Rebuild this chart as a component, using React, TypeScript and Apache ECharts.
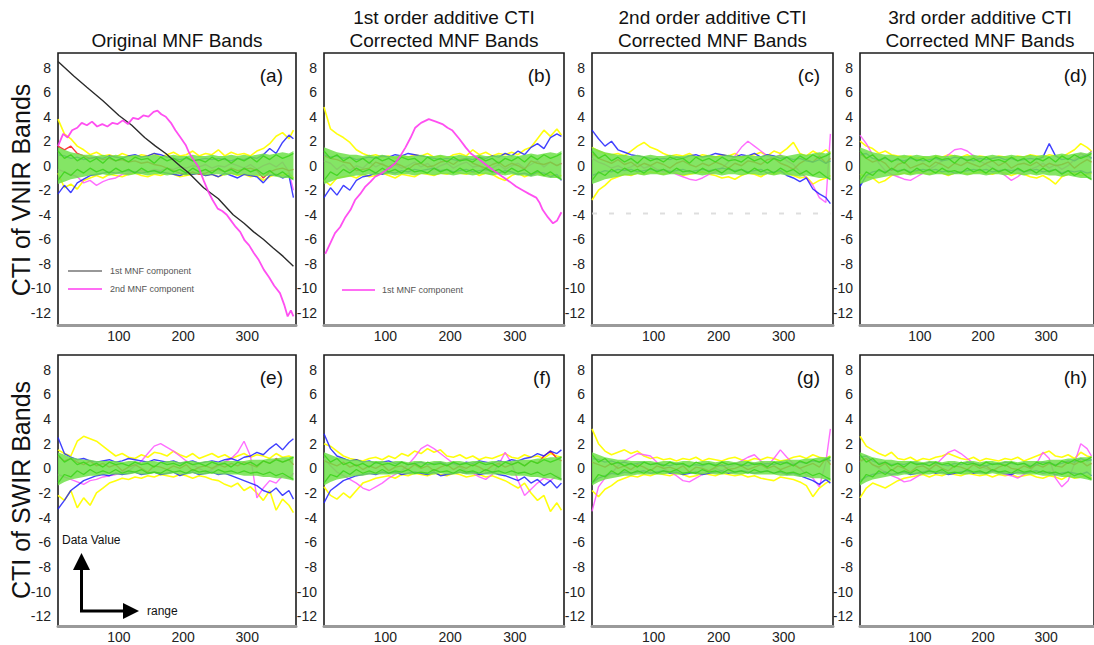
import React, { useEffect, useRef } from "react";
import * as echarts from "echarts";

// ---------- shared axes ----------
const xs = [5,15,25,35,45,55,65,75,85,95,105,115,125,135,145,155,165,175,185,195,205,215,225,235,245,255,265,275,285,295,305,315,325,335,345,355,365,372];
const xTicks = [100, 200, 300];
const yTicks = [-12, -10, -8, -6, -4, -2, 0, 2, 4, 6, 8];

const colTitles = [
  ["Original MNF Bands"],
  ["1st order additive CTI", "Corrected MNF Bands"],
  ["2nd order additive CTI", "Corrected MNF Bands"],
  ["3rd order additive CTI", "Corrected MNF Bands"],
];
const rowNames = ["CTI of VNIR Bands", "CTI of SWIR Bands"];
const panelLabels = ["(a)", "(b)", "(c)", "(d)", "(e)", "(f)", "(g)", "(h)"];

// ---------- green bulk of bands (envelopes + representative lines) ----------
const vnirBandTop = [1.5,1.3,1.1,1.0,0.9,0.9,0.8,0.9,0.8,0.9,0.8,0.8,0.9,0.8,0.8,0.9,0.8,0.8,0.9,0.8,0.8,0.9,0.8,0.8,0.9,0.8,0.8,0.9,0.8,0.9,0.8,0.9,1.0,0.9,1.0,1.1,1.0,1.2];
const vnirBandBot = [-1.5,-1.3,-1.1,-1.0,-0.9,-0.8,-0.8,-0.7,-0.8,-0.7,-0.7,-0.8,-0.7,-0.7,-0.8,-0.7,-0.7,-0.8,-0.7,-0.7,-0.8,-0.7,-0.7,-0.8,-0.7,-0.7,-0.8,-0.7,-0.8,-0.7,-0.8,-0.8,-0.9,-0.8,-0.9,-1.0,-1.0,-1.2];
const swirBandTop = [1.3,1.1,0.9,0.8,0.7,0.7,0.6,0.6,0.6,0.6,0.5,0.6,0.6,0.5,0.6,0.6,0.5,0.6,0.6,0.5,0.6,0.6,0.5,0.6,0.6,0.5,0.6,0.6,0.6,0.6,0.7,0.7,0.7,0.8,0.8,0.9,0.9,1.0];
const swirBandBot = [-1.4,-1.1,-0.9,-0.8,-0.7,-0.6,-0.6,-0.5,-0.5,-0.5,-0.5,-0.5,-0.4,-0.5,-0.5,-0.4,-0.5,-0.5,-0.4,-0.5,-0.5,-0.4,-0.5,-0.5,-0.4,-0.5,-0.5,-0.5,-0.5,-0.6,-0.6,-0.6,-0.7,-0.7,-0.8,-0.8,-0.9,-1.0];
const vnirGreenA = [1.2,0.6,0.9,0.4,0.7,0.3,0.6,0.2,0.7,0.4,0.6,0.3,0.7,0.5,0.6,0.2,0.7,0.4,0.6,0.3,0.7,0.4,0.5,0.3,0.7,0.4,0.6,0.2,0.6,0.4,0.7,0.3,0.8,0.5,0.9,0.6,0.8,1.0];
const vnirGreenB = [-1.2,-0.5,-0.8,-0.3,-0.6,-0.2,-0.5,-0.3,-0.6,-0.2,-0.5,-0.3,-0.6,-0.2,-0.5,-0.4,-0.6,-0.2,-0.5,-0.3,-0.6,-0.2,-0.5,-0.3,-0.6,-0.2,-0.5,-0.3,-0.6,-0.2,-0.5,-0.3,-0.7,-0.4,-0.8,-0.5,-0.9,-1.1];
const swirGreenA = [1.1,0.5,0.8,0.3,0.5,0.2,0.4,0.1,0.5,0.3,0.4,0.2,0.5,0.3,0.4,0.1,0.5,0.3,0.4,0.2,0.5,0.3,0.4,0.2,0.5,0.3,0.4,0.1,0.5,0.3,0.5,0.2,0.6,0.4,0.7,0.5,0.7,0.9];
const swirGreenB = [-1.2,-0.5,-0.7,-0.2,-0.5,-0.1,-0.4,-0.2,-0.4,-0.1,-0.4,-0.2,-0.3,-0.1,-0.4,-0.3,-0.4,-0.1,-0.3,-0.2,-0.4,-0.1,-0.3,-0.2,-0.4,-0.1,-0.3,-0.2,-0.4,-0.2,-0.4,-0.3,-0.5,-0.3,-0.6,-0.4,-0.7,-0.9];

// ---------- (a) ----------
const aYellowHi = [3.8,2.6,2.2,1.6,1.3,0.9,1.1,0.8,0.9,0.7,1.0,0.8,0.7,0.9,0.8,1.0,0.7,0.9,1.1,0.8,0.9,1.2,0.8,1.0,0.9,1.3,0.8,1.1,0.9,1.0,0.8,1.2,1.4,1.8,2.4,2.7,2.2,2.9];
const aYellowLo = [-0.6,-1.8,-1.5,-1.9,-1.2,-1.0,-0.8,-1.0,-0.7,-0.8,-0.9,-0.7,-0.6,-0.8,-0.9,-0.7,-0.8,-0.6,-0.7,-0.9,-0.8,-0.7,-0.6,-0.8,-0.7,-0.9,-0.7,-0.6,-0.8,-0.7,-0.9,-0.8,-1.2,-0.9,-0.7,-0.8,-0.6,-1.0];
const aBlueHi = [0.9,0.8,0.6,0.7,0.5,0.6,0.7,0.6,0.8,0.7,0.6,0.8,0.9,0.7,0.8,1.0,0.9,0.7,0.6,0.5,0.6,0.4,0.5,0.6,0.5,0.6,0.5,0.4,0.6,0.5,0.7,0.6,0.9,1.4,1.0,1.9,2.5,2.2];
const aBlueLo = [-2.3,-1.6,-2.2,-1.4,-1.1,-0.8,-0.7,-0.6,-0.5,-0.6,-0.5,-0.4,-0.5,-0.6,-0.5,-0.4,-0.5,-0.6,-0.7,-0.8,-0.6,-0.7,-0.6,-0.8,-0.7,-0.9,-0.6,-0.8,-1.0,-0.7,-0.8,-0.9,-1.4,-0.8,-0.7,-1.0,-0.8,-2.6];
const aRed = [1.6,1.3,1.6,1.0,0.8,0.6,0.7,0.5,0.6,0.4,0.5,0.3,0.4,0.2,0.3,0.1,0.0,-0.2,-0.4,-0.6,-0.7,-0.5,-0.7,-0.6,-0.4,-0.3,-0.5,-0.2,-0.4,-0.3,-0.2,-0.4,-1.0,-0.5,-0.3,-0.2,-0.4,-0.3];
const aPink = [-0.3,-0.5,-0.7,-0.9,-1.4,-1.2,-1.6,-1.3,-1.1,-1.0,-0.7,-0.6,-0.5,-0.4,-0.5,-0.3,-0.4,-0.2,-0.3,-0.1,-0.2,0.0,-0.1,0.1,-0.2,0.0,-0.1,0.2,0.0,-0.2,0.1,-0.3,0.0,0.2,-0.1,0.3,-0.5,-2.0];
const aComp1 = [[5,8.5],[30,7.3],[50,6.4],[75,5.3],[100,4.1],[120,3.3],[140,2.3],[157,1.6],[173,1.0],[195,0.0],[209,-0.6],[232,-1.8],[255,-2.7],[278,-4.0],[295,-4.7],[310,-5.4],[325,-6.0],[340,-6.7],[356,-7.4],[372,-8.2]];
const aComp2 = [[5,1.6],[13,2.6],[20,2.3],[27,2.9],[35,3.1],[42,3.5],[50,3.3],[58,3.6],[66,3.2],[74,3.4],[82,3.2],[90,3.5],[98,3.4],[106,3.7],[114,3.4],[122,3.9],[130,3.8],[138,4.1],[146,4.0],[154,4.4],[160,4.5],[166,4.2],[173,4.0],[181,3.5],[188,2.9],[196,2.3],[204,1.7],[209,1.1],[216,0.5],[224,-0.1],[232,-1.2],[240,-2.2],[246,-2.8],[254,-3.5],[261,-3.7],[268,-4.0],[275,-4.5],[282,-5.0],[289,-5.4],[296,-6.1],[303,-6.5],[310,-7.1],[318,-7.7],[326,-8.5],[334,-9.1],[342,-9.8],[351,-10.4],[358,-11.4],[363,-12.3],[368,-11.8],[372,-12.3]];

// ---------- (b) ----------
const bYellowHi = [4.8,3.0,2.6,2.3,1.9,1.3,1.0,0.8,0.9,0.7,0.8,0.6,0.8,0.7,0.9,0.8,1.0,0.7,0.8,0.6,0.9,1.0,0.8,1.3,0.9,1.1,0.8,1.0,0.9,1.1,0.9,1.3,1.5,2.2,2.9,2.4,3.0,2.5];
const bYellowLo = [-1.2,-1.6,-1.0,-0.9,-0.8,-1.0,-0.7,-0.9,-0.8,-0.6,-0.8,-1.0,-0.7,-0.8,-0.9,-0.6,-0.7,-0.8,-0.6,-0.7,-0.5,-0.6,-0.7,-0.5,-0.8,-0.6,-0.7,-1.0,-1.2,-0.8,-0.6,-0.9,-0.7,-0.6,-0.8,-0.7,-0.9,-0.8];
const bBlueHi = [0.9,0.7,0.8,0.6,0.7,0.5,0.6,0.7,0.6,0.8,0.7,0.9,0.8,1.0,0.9,0.8,0.7,0.6,0.5,0.6,0.5,0.4,0.6,0.5,0.7,0.6,0.8,0.7,1.0,0.8,1.2,0.9,1.5,1.8,1.4,2.3,2.6,2.4];
const bBlueLo = [-2.6,-1.8,-2.4,-1.6,-2.0,-1.2,-0.9,-0.8,-0.6,-0.7,-0.5,-0.6,-0.4,-0.5,-0.3,-0.4,-0.3,-0.2,-0.4,-0.3,-0.5,-0.4,-0.3,-0.5,-0.4,-0.3,-0.5,-0.6,-0.4,-0.5,-0.7,-0.6,-0.8,-0.5,-0.6,-0.9,-0.7,-1.2];
const bRed = [0.8,0.6,0.5,0.3,0.2,-0.4,-0.3,-0.2,0.3,0.1,-0.1,0.2,0.0,-0.3,0.1,0.2,-0.1,0.0,0.3,0.4,0.1,0.5,0.6,0.2,0.0,-0.2,0.1,0.3,-0.1,0.2,0.0,-0.3,0.4,0.2,0.1,0.3,0.0,0.2];
const bPink = [0.4,0.2,-0.3,0.1,-0.4,0.0,-0.2,0.3,-0.1,0.2,-0.3,0.1,-0.2,0.0,0.3,-0.1,0.2,-0.3,0.0,0.2,-0.2,0.1,0.3,-0.1,0.0,-0.4,-0.2,0.1,-0.3,0.0,0.2,-0.2,0.1,0.4,-0.1,0.3,0.0,0.2];
const bComp = [[7,-7.2],[15,-6.3],[22,-5.5],[30,-5.0],[38,-4.2],[46,-3.6],[53,-2.8],[61,-2.3],[69,-1.7],[77,-1.3],[84,-0.9],[92,-0.7],[100,-0.4],[108,-0.1],[115,0.2],[123,0.8],[131,1.5],[139,2.3],[146,3.1],[155,3.5],[167,3.8],[178,3.6],[188,3.4],[196,3.1],[203,2.9],[214,2.2],[224,1.5],[232,1.0],[240,0.7],[250,0.3],[260,-0.1],[270,-0.5],[281,-0.9],[292,-1.3],[302,-1.7],[312,-2.0],[322,-2.3],[333,-2.6],[338,-3.0],[343,-3.6],[351,-4.2],[359,-4.7],[365,-4.5],[372,-3.8]];

// ---------- (c) ----------
const cYellowHi = [1.5,1.2,1.0,0.9,1.0,0.8,1.2,1.6,1.9,1.5,1.3,1.0,0.8,0.9,0.8,1.0,0.7,0.9,0.8,0.7,0.9,0.8,1.0,0.7,0.8,0.9,1.1,0.8,1.2,1.0,1.4,1.9,1.0,0.8,1.2,0.9,1.3,1.0];
const cYellowLo = [-2.8,-2.0,-1.6,-1.1,-0.9,-0.7,-0.8,-0.6,-0.7,-0.5,-0.6,-0.7,-0.5,-0.6,-0.8,-0.7,-0.6,-0.5,-0.7,-0.8,-1.0,-0.9,-1.1,-0.8,-0.6,-0.7,-0.9,-0.6,-0.7,-0.5,-0.6,-0.8,-1.0,-0.9,-1.5,-1.2,-1.0,-0.8];
const cBlueHi = [2.9,2.2,1.6,2.0,1.3,1.1,0.9,0.8,0.7,0.6,0.5,0.6,0.5,0.7,0.6,0.8,0.9,0.7,0.8,1.0,0.9,0.8,0.7,0.9,0.8,1.0,0.7,0.9,0.8,0.6,0.7,0.5,0.6,0.4,0.3,0.5,0.2,0.4];
const cBlueLo = [-0.8,-0.6,-0.4,-0.5,-0.3,-0.4,-0.3,-0.5,-0.4,-0.3,-0.4,-0.3,-0.5,-0.4,-0.3,-0.5,-0.4,-0.3,-0.4,-0.3,-0.2,-0.3,-0.4,-0.3,-0.5,-0.4,-0.3,-0.6,-0.5,-0.4,-0.8,-1.0,-1.3,-1.0,-1.9,-2.3,-2.6,-3.1];
const cRed = [1.0,0.6,0.4,0.2,0.5,0.1,0.3,-0.1,0.2,0.0,0.3,0.1,-0.2,0.2,0.4,0.1,-0.1,0.2,0.0,0.3,0.1,-0.2,0.2,0.0,0.4,0.3,0.1,0.5,0.6,0.2,0.0,-0.3,0.2,0.5,0.3,0.8,0.2,0.6];
const cPink = [0.6,0.3,0.1,-0.2,0.0,-0.3,-0.1,0.2,-0.2,0.0,-0.3,-0.5,-0.4,-0.7,-0.9,-1.1,-1.2,-1.0,-0.7,-0.5,-0.2,0.3,0.8,1.5,2.0,1.6,1.2,0.8,0.6,0.9,0.4,0.1,-0.5,-1.0,-1.6,-2.6,-3.0,2.6];
const cArtifact = [-3.9, -3.9];

// ---------- (d) ----------
const dYellowHi = [2.0,1.6,1.4,1.0,1.2,0.9,0.8,0.7,0.8,0.6,0.7,0.6,0.8,0.7,0.9,0.8,0.7,0.9,0.6,0.8,0.7,0.6,0.8,0.7,0.6,0.8,0.7,0.9,0.8,0.7,0.9,0.8,0.7,1.0,1.3,1.8,1.5,1.2];
const dYellowLo = [-0.7,-0.9,-1.0,-1.4,-1.2,-0.8,-0.7,-0.6,-0.7,-0.5,-0.6,-0.7,-0.5,-0.6,-0.8,-0.6,-0.5,-0.7,-0.6,-0.5,-0.6,-0.7,-0.5,-0.6,-0.8,-0.6,-0.7,-0.9,-1.0,-0.8,-1.1,-1.5,-0.9,-0.7,-0.6,-0.8,-0.7,-0.6];
const dBlueHi = [0.9,1.0,0.6,0.5,0.6,0.4,0.5,0.4,0.6,0.5,0.4,0.5,0.6,0.4,0.5,0.7,0.6,0.5,0.4,0.6,0.5,0.6,0.7,0.5,0.6,0.4,0.5,0.6,0.5,0.7,1.8,0.8,0.5,0.6,0.4,0.7,0.9,0.6];
const dBlueLo = [-1.7,-0.8,-0.5,-0.4,-0.5,-0.3,-0.4,-0.3,-0.5,-0.4,-0.3,-0.4,-0.3,-0.5,-0.4,-0.6,-0.5,-0.4,-0.3,-0.4,-0.3,-0.5,-0.4,-0.3,-0.4,-0.3,-0.5,-0.4,-0.3,-0.5,-0.4,-0.3,-0.6,-0.4,-0.5,-0.4,-0.6,-0.5];
const dRed = [1.0,0.6,0.3,0.5,0.2,-0.4,0.1,0.3,-0.2,0.0,0.2,-0.1,0.3,0.1,-0.2,0.2,0.0,0.3,0.1,-0.1,0.2,0.4,0.0,0.3,-0.2,0.1,0.2,0.0,0.3,-0.1,0.2,0.0,0.1,0.3,-0.2,0.2,0.5,0.3];
const dPink = [2.5,1.8,0.9,0.2,-0.4,-0.7,-0.9,-1.1,-1.2,-0.9,-0.6,-0.3,0.0,0.4,0.9,1.3,1.4,1.2,0.8,0.4,0.1,-0.2,-0.4,-0.8,-1.2,-0.9,-0.5,-0.3,-0.1,0.2,-0.2,0.1,-0.3,0.0,0.5,1.0,0.7,1.2];

// ---------- (e) ----------
const eYellowHi = [1.5,1.2,1.0,2.2,2.6,2.4,2.2,1.8,1.4,1.0,1.2,0.9,0.8,1.1,0.9,1.3,1.2,1.0,1.4,1.1,0.9,1.2,0.8,1.0,1.2,0.9,1.1,0.8,1.0,1.2,0.9,1.1,1.0,0.8,1.2,0.9,1.0,0.8];
const eYellowLo = [-2.2,-2.6,-1.8,-3.2,-2.4,-3.0,-2.0,-1.6,-1.2,-1.0,-0.8,-0.9,-0.7,-0.8,-0.6,-0.7,-0.5,-0.6,-0.7,-0.5,-0.6,-0.8,-0.6,-0.7,-0.9,-1.0,-1.3,-1.5,-1.2,-1.8,-1.5,-2.0,-2.6,-1.8,-3.4,-2.5,-3.0,-3.6];
const eBlueHi = [2.5,1.2,0.9,0.7,0.8,0.6,0.5,0.6,0.7,0.5,0.6,0.8,0.7,0.6,0.5,0.7,0.6,0.5,0.6,0.4,0.5,0.6,0.4,0.5,0.6,0.5,0.7,0.8,0.6,0.9,1.0,1.3,1.1,1.6,2.0,1.5,2.1,2.4];
const eBlueLo = [-3.3,-2.6,-1.8,-1.4,-1.0,-0.8,-0.6,-0.5,-0.6,-0.4,-0.5,-0.4,-0.3,-0.5,-0.4,-0.3,-0.5,-0.4,-0.3,-0.6,-0.4,-0.3,-0.5,-0.4,-0.3,-0.5,-0.4,-0.6,-0.8,-1.0,-1.2,-1.4,-1.8,-2.0,-1.6,-2.2,-1.8,-2.5];
const eRed = [1.0,0.6,0.8,0.5,0.3,0.6,0.2,0.4,0.1,0.3,-0.2,0.1,0.3,0.0,-0.3,0.2,0.1,-0.1,0.2,0.0,0.3,-0.2,0.1,0.2,0.0,0.3,0.1,0.4,0.2,0.5,0.3,0.1,0.6,0.4,0.8,0.5,0.7,0.3];
const ePink = [-0.5,-0.7,-0.9,-1.1,-1.3,-1.0,-0.9,-0.7,-0.6,-0.5,-0.3,-0.2,0.2,0.6,1.2,1.8,2.0,1.7,1.4,1.0,0.6,0.3,0.0,-0.3,-0.1,0.2,0.5,0.8,1.3,2.2,1.0,-2.4,-1.6,-1.0,-1.2,-0.6,-0.8,-0.4];

// ---------- (f) ----------
const fYellowHi = [2.0,1.8,1.4,1.0,0.8,0.7,0.6,0.8,0.9,0.7,1.0,0.8,1.2,1.0,1.4,1.2,1.6,1.3,1.5,1.0,0.9,1.1,0.8,1.0,0.7,0.9,0.8,1.0,1.2,0.9,0.8,1.1,0.9,1.0,0.8,1.2,1.0,0.9];
const fYellowLo = [-1.5,-2.2,-2.5,-2.0,-2.4,-1.8,-1.2,-1.0,-0.8,-0.7,-0.6,-0.8,-0.5,-0.6,-0.4,-0.5,-0.6,-0.4,-0.5,-0.6,-0.4,-0.5,-0.7,-0.6,-0.5,-0.7,-0.6,-0.8,-1.0,-1.3,-1.6,-1.2,-2.0,-2.6,-2.2,-3.5,-2.8,-3.4];
const fBlueHi = [2.8,1.6,1.0,0.8,0.6,0.7,0.5,0.6,0.4,0.5,0.6,0.4,0.5,0.3,0.4,0.5,0.3,0.4,0.5,0.3,0.4,0.3,0.5,0.4,0.6,0.5,0.4,0.6,0.5,0.7,0.6,0.8,0.9,1.2,1.0,1.4,1.2,1.5];
const fBlueLo = [-2.8,-1.8,-1.4,-1.0,-0.8,-0.6,-0.5,-0.4,-0.5,-0.3,-0.4,-0.3,-0.5,-0.4,-0.3,-0.4,-0.5,-0.3,-0.6,-0.5,-0.4,-0.3,-0.4,-0.3,-0.5,-0.4,-0.3,-0.5,-0.6,-0.8,-1.0,-0.7,-1.2,-0.9,-1.4,-1.0,-1.6,-1.2];
const fRed = [0.6,0.4,0.2,0.5,0.1,0.3,-0.1,0.2,0.0,0.3,-0.2,0.1,0.2,-0.1,0.3,0.0,0.2,-0.2,0.1,0.3,-0.1,0.2,0.0,0.3,0.1,-0.2,0.2,0.4,0.1,0.3,0.5,0.2,0.6,0.4,1.0,1.4,0.8,0.6];
const fPink = [0.8,0.2,-0.3,-0.6,-0.9,-1.2,-1.6,-1.8,-1.5,-1.2,-0.8,-0.5,-0.2,0.3,0.9,1.6,1.9,1.6,1.2,0.8,0.4,0.1,-0.2,-0.4,-0.7,-0.9,-0.5,0.3,1.3,0.4,-1.0,-2.2,-1.7,-1.2,-0.8,-1.0,-0.6,-0.9];

// ---------- (g) ----------
const gYellowHi = [3.2,2.0,1.4,1.1,1.3,1.5,1.2,1.4,1.0,0.8,0.9,0.7,0.8,0.6,0.8,0.7,0.9,0.6,0.8,0.7,0.6,0.8,0.9,0.7,0.6,0.8,0.7,0.9,0.8,0.6,0.7,0.9,1.0,0.8,1.1,0.9,0.8,1.0];
const gYellowLo = [-1.8,-2.3,-1.7,-1.4,-1.0,-0.8,-0.6,-0.7,-0.5,-0.6,-0.4,-0.5,-0.6,-0.4,-0.5,-0.7,-0.6,-0.4,-0.5,-0.6,-0.4,-0.5,-0.6,-0.5,-0.7,-0.6,-0.8,-0.9,-1.0,-0.7,-0.8,-0.9,-1.1,-1.4,-2.3,-1.6,-1.2,-1.0];
const gBlueHi = [0.8,0.7,0.5,0.6,0.4,0.5,0.3,0.4,0.5,0.3,0.4,0.3,0.2,0.4,0.3,0.2,0.3,0.2,0.4,0.3,0.2,0.3,0.4,0.3,0.2,0.4,0.3,0.4,0.3,0.5,0.4,0.3,0.5,0.4,0.6,0.5,0.8,0.6];
const gBlueLo = [-1.2,-0.8,-0.6,-0.4,-0.5,-0.3,-0.4,-0.3,-0.2,-0.4,-0.3,-0.2,-0.4,-0.3,-0.5,-0.4,-0.3,-0.5,-0.4,-0.3,-0.2,-0.4,-0.3,-0.2,-0.3,-0.4,-0.3,-0.2,-0.4,-0.3,-0.5,-0.4,-0.6,-0.8,-1.0,-1.3,-0.9,-1.2];
const gRed = [0.5,0.3,0.1,0.4,0.0,0.2,-0.1,0.3,0.1,-0.2,0.2,0.0,0.1,-0.1,0.2,-0.3,0.1,0.0,-0.2,0.1,0.3,-0.1,0.0,0.2,-0.1,0.1,0.3,0.0,0.2,-0.1,0.1,0.3,0.0,0.2,0.4,0.1,0.8,0.3];
const gPink = [-3.5,-1.5,-0.8,-0.4,0.2,0.6,0.9,1.2,1.1,1.0,0.5,0.0,-0.3,-0.6,-1.0,-1.1,-0.8,-0.5,-0.2,0.0,-0.2,0.1,0.3,0.6,0.9,1.1,0.6,0.2,0.8,1.5,0.9,0.4,0.0,-0.5,-0.8,-1.5,0.5,3.2];

// ---------- (h) ----------
const hYellowHi = [2.6,1.8,1.5,1.2,1.0,1.3,0.8,0.7,0.9,0.6,0.8,0.7,0.9,1.0,1.2,1.0,0.8,0.7,0.9,0.6,0.8,0.7,0.6,0.8,0.7,0.9,0.6,0.8,1.0,1.2,1.4,1.0,0.9,1.1,0.8,1.3,1.0,0.9];
const hYellowLo = [-2.4,-1.6,-1.2,-1.4,-1.6,-1.3,-1.0,-0.8,-0.7,-0.6,-0.5,-0.7,-0.5,-0.6,-0.4,-0.5,-0.6,-0.4,-0.5,-0.6,-0.5,-0.7,-0.5,-0.6,-0.5,-0.7,-0.6,-0.5,-0.7,-0.8,-0.6,-0.7,-0.9,-0.6,-0.8,-0.7,-0.6,-0.8];
const hBlueHi = [0.9,1.0,0.6,0.4,0.5,0.3,0.4,0.3,0.5,0.4,0.3,0.5,0.4,0.3,0.2,0.4,0.3,0.5,0.4,0.3,0.2,0.4,0.3,0.5,0.4,0.3,0.4,0.2,0.3,0.5,0.4,0.3,0.4,0.6,0.5,0.8,0.6,0.7];
const hBlueLo = [-1.0,-0.7,-0.5,-0.4,-0.3,-0.5,-0.4,-0.3,-0.5,-0.4,-0.3,-0.2,-0.4,-0.3,-0.5,-0.4,-0.3,-0.2,-0.4,-0.3,-0.4,-0.2,-0.3,-0.4,-0.5,-0.3,-0.4,-0.3,-0.2,-0.4,-0.3,-0.5,-0.4,-0.3,-0.4,-0.5,-0.3,-0.6];
const hRed = [0.6,0.8,0.3,0.1,0.4,-0.2,0.2,0.0,-0.3,0.1,0.2,-0.1,0.3,0.0,-0.2,0.2,0.1,-0.1,0.3,0.0,0.2,-0.2,0.1,0.3,0.0,-0.1,0.2,0.0,0.3,0.1,0.4,0.2,0.1,0.5,0.3,0.6,0.2,0.4];
const hPink = [0.5,0.8,0.3,0.0,-0.3,-0.6,-0.8,-1.1,-1.0,-0.7,-0.4,-0.1,0.3,0.8,1.3,1.5,1.2,0.8,0.4,0.2,0.0,-0.2,-0.3,-0.5,-0.6,-0.8,-0.5,-0.2,0.4,1.3,0.8,-0.8,-1.5,-1.0,0.4,2.0,1.6,1.0];

// ---------- layout ----------
const FONT = '"Liberation Sans", Arial, Helvetica, sans-serif';
const LEFTS = [58, 324, 592, 860];
const WIDTHS = [238, 240, 241, 240];
const TOPS = [53, 355];
const HEIGHTS = [272, 271];
const Y_MINS = [-13, -12.8];
const Y_MAX = 9.2;
const X_MIN = 5;
const X_MAX = 376;

const C_YELLOW = "#ffff00";
const C_BLUE = "#2020ff";
const C_RED = "#ff2020";
const C_PINK = "#ff55ff";
const C_COMP = "#ff3cf0";
const C_GREEN = "#3fd41e";
const C_BAND = "#6ee04a";

const panels = [
  { yHi: aYellowHi, yLo: aYellowLo, bHi: aBlueHi, bLo: aBlueLo, red: aRed, pink: aPink },
  { yHi: bYellowHi, yLo: bYellowLo, bHi: bBlueHi, bLo: bBlueLo, red: bRed, pink: bPink },
  { yHi: cYellowHi, yLo: cYellowLo, bHi: cBlueHi, bLo: cBlueLo, red: cRed, pink: cPink },
  { yHi: dYellowHi, yLo: dYellowLo, bHi: dBlueHi, bLo: dBlueLo, red: dRed, pink: dPink },
  { yHi: eYellowHi, yLo: eYellowLo, bHi: eBlueHi, bLo: eBlueLo, red: eRed, pink: ePink },
  { yHi: fYellowHi, yLo: fYellowLo, bHi: fBlueHi, bLo: fBlueLo, red: fRed, pink: fPink },
  { yHi: gYellowHi, yLo: gYellowLo, bHi: gBlueHi, bLo: gBlueLo, red: gRed, pink: gPink },
  { yHi: hYellowHi, yLo: hYellowLo, bHi: hBlueHi, bLo: hBlueLo, red: hRed, pink: hPink },
];

const pts = (arr: number[]) => xs.map((x, i) => [x, arr[i]]);

function lineSeries(i: number, data: any[], color: string, width = 1, opacity = 0.9, z = 2, extra: any = {}) {
  return {
    type: "line",
    xAxisIndex: i,
    yAxisIndex: i,
    data,
    symbol: "none",
    silent: true,
    z,
    lineStyle: { color, width, opacity },
    ...extra,
  };
}

// filled band between two envelopes, positioned through the axes' own scales
function bandSeries(i: number, top: number[], bot: number[]) {
  return {
    type: "custom",
    xAxisIndex: i,
    yAxisIndex: i,
    silent: true,
    z: 3,
    data: xs.map((x, k) => [x, top[k], bot[k]]),
    encode: { x: 0, y: [1, 2] },
    renderItem: (params: any, api: any) => {
      if (params.dataIndex !== 0) return null;
      const upper = xs.map((x, k) => api.coord([x, top[k]]));
      const lower = xs.map((x, k) => api.coord([x, bot[k]])).reverse();
      return {
        type: "polygon",
        shape: { points: upper.concat(lower) },
        style: { fill: C_BAND, opacity: 0.85 },
      };
    },
  };
}

function buildOption() {
  const grid: any[] = [];
  const xAxis: any[] = [];
  const yAxis: any[] = [];
  const series: any[] = [];
  const graphic: any[] = [];

  panels.forEach((p, i) => {
    const row = i < 4 ? 0 : 1;
    const col = i % 4;
    grid.push({
      left: LEFTS[col],
      top: TOPS[row],
      width: WIDTHS[col],
      height: HEIGHTS[row],
      show: true,
      borderColor: "#1c1c1c",
      borderWidth: 1.6,
      backgroundColor: "#ffffff",
      containLabel: false,
    });
    xAxis.push({
      type: "value",
      gridIndex: i,
      min: X_MIN,
      max: X_MAX,
      splitLine: { show: false },
      axisTick: { show: false },
      axisLine: { show: true, onZero: false, lineStyle: { color: "#9a9a9a", width: 3 } },
      axisLabel: { customValues: xTicks, margin: 4, fontSize: 14, color: "#222", fontFamily: FONT },
    });
    yAxis.push({
      type: "value",
      gridIndex: i,
      min: Y_MINS[row],
      max: Y_MAX,
      splitLine: { show: false },
      axisTick: { show: false },
      axisLine: { show: false },
      axisLabel: { customValues: yTicks, margin: 7, fontSize: 14, color: "#222", fontFamily: FONT },
    });

    const bandTop = row === 0 ? vnirBandTop : swirBandTop;
    const bandBot = row === 0 ? vnirBandBot : swirBandBot;
    const gA = row === 0 ? vnirGreenA : swirGreenA;
    const gB = row === 0 ? vnirGreenB : swirGreenB;

    // coloured band excursions
    series.push(lineSeries(i, pts(p.yLo), C_YELLOW, 1.6, 0.95));
    series.push(lineSeries(i, pts(p.yHi), C_YELLOW, 1.6, 0.95));
    series.push(lineSeries(i, pts(p.pink), C_PINK, 1.4, 0.85));
    series.push(lineSeries(i, pts(p.red), C_RED, 1.4, 0.9));
    series.push(lineSeries(i, pts(p.bLo), C_BLUE, 1.4, 0.85));
    series.push(lineSeries(i, pts(p.bHi), C_BLUE, 1.4, 0.85));

    // green bulk
    series.push(bandSeries(i, bandTop, bandBot));
    series.push(lineSeries(i, pts(gA), C_GREEN, 1.3, 0.9, 4));
    series.push(lineSeries(i, pts(gB), C_GREEN, 1.3, 0.9, 4));
  });

  // MNF components
  series.push(lineSeries(0, aComp1, "#2b2b2b", 1.4, 1, 6));
  series.push(lineSeries(0, aComp2, C_COMP, 1.8, 0.9, 6));
  series.push(lineSeries(1, bComp, C_COMP, 1.8, 0.9, 6));
  // faint artefact line in (c)
  series.push(
    lineSeries(2, [[xs[0], cArtifact[0]], [xs[xs.length - 1], cArtifact[1]]], "#d6d6d6", 2, 0.8, 1, {
      lineStyle: { color: "#d6d6d6", width: 2, type: [5, 12], opacity: 0.8 },
    })
  );

  // column titles
  colTitles.forEach((lines, c) => {
    const cx = LEFTS[c] + WIDTHS[c] / 2;
    lines.forEach((t, k) => {
      const y = lines.length === 1 ? 40 : k === 0 ? 17 : 40;
      graphic.push({
        type: "text", x: cx, y, z: 10,
        style: { text: t, align: "center", verticalAlign: "middle", fontSize: 19, fontFamily: FONT, fill: "#111" },
      });
    });
  });
  // row names
  rowNames.forEach((t, r) => {
    graphic.push({
      type: "text", x: 21, y: r === 0 ? 190 : 490, rotation: Math.PI / 2, z: 10,
      style: { text: t, align: "center", verticalAlign: "middle", fontSize: 25, fontFamily: FONT, fill: "#111" },
    });
  });
  // panel letters
  panelLabels.forEach((t, i) => {
    const row = i < 4 ? 0 : 1;
    const col = i % 4;
    graphic.push({
      type: "text", x: LEFTS[col] + WIDTHS[col] - 13, y: TOPS[row] + 22, z: 10,
      style: { text: t, align: "right", verticalAlign: "middle", fontSize: 19, fontFamily: FONT, fill: "#111" },
    });
  });
  // legends
  const legendText = (x: number, y: number, t: string) => ({
    type: "text", x, y, z: 10,
    style: { text: t, align: "left", verticalAlign: "middle", fontSize: 9, fontFamily: FONT, fill: "#555" },
  });
  graphic.push({ type: "line", z: 10, shape: { x1: 68, y1: 271, x2: 102, y2: 271 }, style: { stroke: "#333", lineWidth: 1.2 } });
  graphic.push(legendText(110, 271, "1st MNF component"));
  graphic.push({ type: "line", z: 10, shape: { x1: 68, y1: 289, x2: 102, y2: 289 }, style: { stroke: C_COMP, lineWidth: 1.5 } });
  graphic.push(legendText(110, 289, "2nd MNF component"));
  graphic.push({ type: "line", z: 10, shape: { x1: 342, y1: 290, x2: 375, y2: 290 }, style: { stroke: C_COMP, lineWidth: 1.5 } });
  graphic.push(legendText(382, 290, "1st MNF component"));

  // axes sketch in (e)
  graphic.push({
    type: "text", x: 62, y: 540, z: 10,
    style: { text: "Data Value", align: "left", verticalAlign: "middle", fontSize: 12, fontFamily: FONT, fill: "#111" },
  });
  graphic.push({ type: "line", z: 10, shape: { x1: 81.5, y1: 612, x2: 81.5, y2: 566 }, style: { stroke: "#000", lineWidth: 3 } });
  graphic.push({ type: "polygon", z: 10, shape: { points: [[73, 570], [90, 570], [81.5, 553]] }, style: { fill: "#000" } });
  graphic.push({ type: "line", z: 10, shape: { x1: 80, y1: 611, x2: 128, y2: 611 }, style: { stroke: "#000", lineWidth: 3 } });
  graphic.push({ type: "polygon", z: 10, shape: { points: [[123, 603], [123, 619], [139, 611]] }, style: { fill: "#000" } });
  graphic.push({
    type: "text", x: 147, y: 611, z: 10,
    style: { text: "range", align: "left", verticalAlign: "middle", fontSize: 12, fontFamily: FONT, fill: "#111" },
  });

  return {
    animation: false,
    backgroundColor: "#ffffff",
    grid,
    xAxis,
    yAxis,
    series,
    graphic,
  };
}

export default function App() {
  const ref = useRef<HTMLDivElement>(null);
  useEffect(() => {
    if (!ref.current) return;
    const chart = echarts.init(ref.current, null, { renderer: "svg" });
    chart.setOption(buildOption() as any);
    return () => chart.dispose();
  }, []);
  return (
    <div
      ref={ref}
      style={{ position: "absolute", left: 0, top: 0, width: 1094, height: 645, background: "#fff" }}
    />
  );
}
